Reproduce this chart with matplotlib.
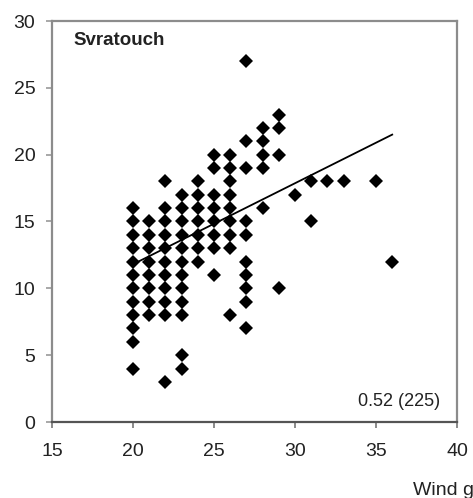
import matplotlib
matplotlib.use("Agg")
import matplotlib.pyplot as plt

plt.rcParams['font.family'] = ['Liberation Sans', 'DejaVu Sans']

# Wind gust (x) against observed values (y), grouped by gust value
wind = [20] * 12 + [21] * 8 + [22] * 11 + [23] * 12 + [24] * 7 + [25] * 8 \
    + [26] * 9 + [27] * 10 + [28] * 5 + [29] * 4 + [30, 31, 31, 32, 33, 35, 36]
values = (
    [4, 6, 7, 8, 9, 10, 11, 12, 13, 14, 15, 16]
    + [8, 9, 10, 11, 12, 13, 14, 15]
    + [3, 8, 9, 10, 11, 12, 13, 14, 15, 16, 18]
    + [4, 5, 8, 9, 10, 11, 12, 13, 14, 15, 16, 17]
    + [12, 13, 14, 15, 16, 17, 18]
    + [11, 13, 14, 15, 16, 17, 19, 20]
    + [8, 13, 14, 15, 16, 17, 18, 19, 20]
    + [7, 9, 10, 11, 12, 14, 15, 19, 21, 27]
    + [16, 19, 20, 21, 22]
    + [10, 20, 22, 23]
    + [17, 15, 18, 18, 18, 18, 12]
)

# Linear fit endpoints
fit_x = [20, 36]
fit_y = [11.8, 21.5]

station = "Svratouch"
stat_text = "0.52 (225)"
x_ticks = [15, 20, 25, 30, 35, 40]
y_ticks = [0, 5, 10, 15, 20, 25, 30]

fig = plt.figure(figsize=(4.73, 4.98), dpi=100)
ax = fig.add_axes([52 / 473, 1 - 422 / 498, 405 / 473, 401 / 498])

ax.plot(wind, values, linestyle='none', marker='D', markersize=7,
        color='black', markeredgewidth=0)
ax.plot(fit_x, fit_y, color='black', linewidth=1.3)

ax.set_xlim(15, 40)
ax.set_ylim(0, 30)
ax.set_xticks(x_ticks)
ax.set_yticks(y_ticks)

for side in ['left', 'top', 'right']:
    ax.spines[side].set_color('#8c8c8c')
    ax.spines[side].set_linewidth(1.6)
ax.spines['bottom'].set_color('#555555')
ax.spines['bottom'].set_linewidth(1.6)

ax.tick_params(axis='x', length=4, width=1.2, color='#777777', pad=11,
               labelsize=14, labelcolor='#222222')
ax.tick_params(axis='y', length=4, width=1.2, color='#999999', pad=8,
               labelsize=14, labelcolor='#222222')

ax.text(0.052, 0.972, station, transform=ax.transAxes, ha='left', va='top',
        fontsize=13.5, fontweight='bold', color='#222222')
ax.text(0.958, 0.04, stat_text, transform=ax.transAxes, ha='right',
        va='baseline', fontsize=13, color='#222222')

fig.text(413 / 473, 0.006, "Wind gust", ha='left', va='baseline',
         fontsize=14, color='#222222')

fig.savefig("out.png", dpi=100, facecolor='white')
